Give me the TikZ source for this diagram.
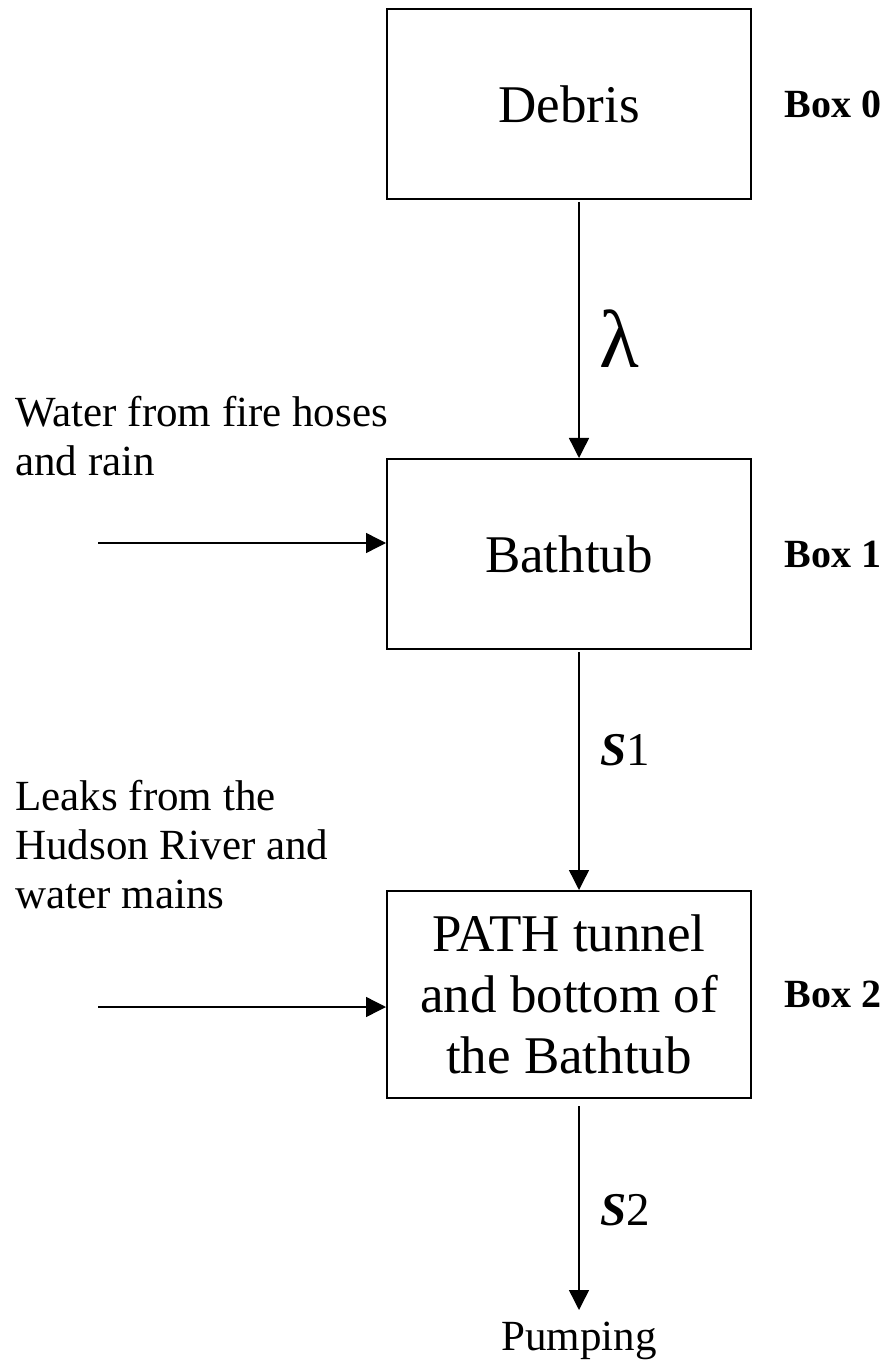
\documentclass[tikz,border=0pt]{standalone}
\usepackage{fontspec}
\setmainfont{Liberation Serif}
\usetikzlibrary{arrows.meta,positioning}

\begin{document}
\begin{tikzpicture}[x=0.5pt,y=-0.5pt,
  box/.style={draw,line width=1pt,minimum width=182pt,minimum height=95pt,inner sep=0pt,align=center,font=\fontsize{26.5}{30.5}\selectfont},
  boxlabel/.style={inner sep=0pt,font=\fontsize{20}{24}\selectfont\bfseries},
  flow/.style={line width=0.7pt,-{Triangle[length=10pt,width=10pt]}},
  src/.style={inner sep=0pt,align=left,anchor=north west,font=\fontsize{21.5}{24.5}\selectfont},
  rate/.style={inner sep=0pt,anchor=west,font=\fontsize{23.5}{24}\selectfont}]
\useasboundingbox (0,0) rectangle (890,1368);

% compartments
\node[box] (b0) at (569,104) {Debris};
\node[box] (b1) at (569,554) {Bathtub};
\node[box,minimum height=103.5pt] (b2) at (569,994.5) {PATH tunnel\\and bottom of\\the Bathtub};

\node[boxlabel,right=16pt of b0] (lab0) {Box 0};
\node[boxlabel,right=16pt of b1] (lab1) {Box 1};
\node[boxlabel,right=16pt of b2] (lab2) {Box 2};

% flows between boxes
\draw[flow,shorten <=1pt] ([xshift=5pt]b0.south) -- ([xshift=5pt]b1.north);
\draw[flow,shorten <=1pt] ([xshift=5pt]b1.south) -- ([xshift=5pt]b2.north);
\coordinate (out) at (579,1310);
\draw[flow,shorten <=3.5pt] ([xshift=5pt]b2.south) -- (out);

\node[rate,font=\fontsize{41}{41}\selectfont] (lam) at (599,339) {λ};
\node[rate] (s1) at (600,750) {{\bfseries\itshape S}1};
\node[rate] (s2) at (600,1210) {{\bfseries\itshape S}2};
\node[inner sep=0pt,anchor=north,font=\fontsize{21.5}{24}\selectfont] (pump) at ([yshift=-6pt]out) {Pumping};

% inflows
\node[src] (water) at (15,396) {Water from fire hoses\\and rain};
\coordinate (in1) at (98,543);
\draw[flow] (in1) -- (in1 -| b1.west);

\node[src] (leaks) at (15,780) {Leaks from the\\Hudson River and\\water mains};
\coordinate (in2) at (98,1007);
\draw[flow] (in2) -- (in2 -| b2.west);
\end{tikzpicture}
\end{document}
